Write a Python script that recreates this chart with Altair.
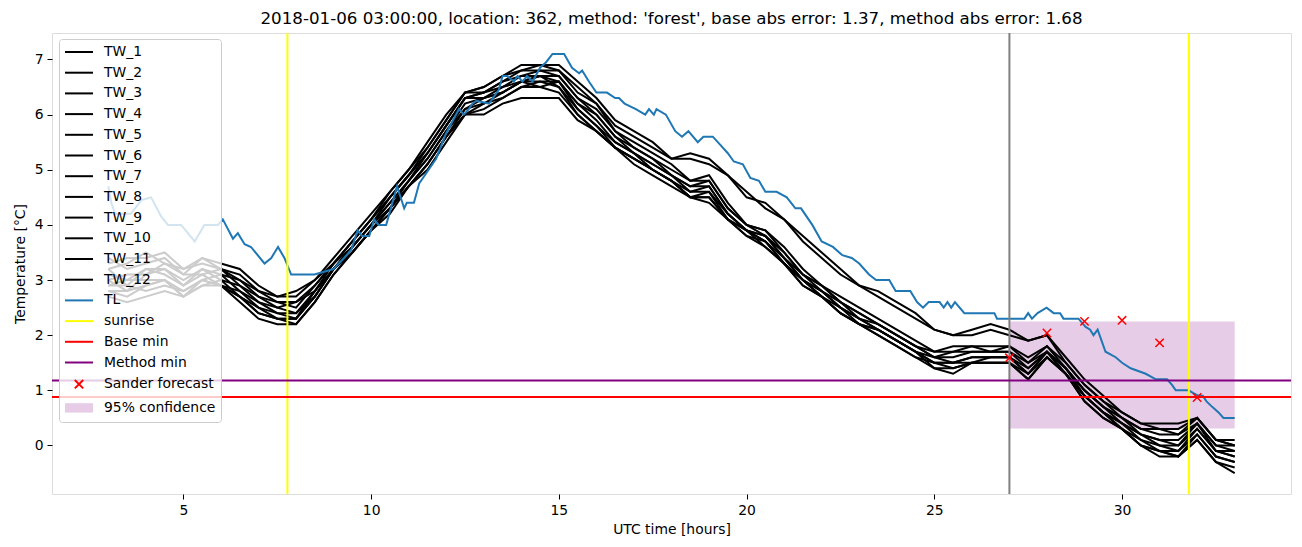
import altair as alt
import pandas as pd

# ---------------- data ----------------
hours = [3.0, 3.5, 4.0, 4.5, 5.0, 5.5, 6.0, 6.5, 7.0, 7.5,
         8.0, 8.5, 9.0, 9.5, 10.0, 10.5, 11.0, 11.5, 12.0, 12.5,
         13.0, 13.5, 14.0, 14.5, 15.0, 15.5, 16.0, 16.5, 17.0, 17.5,
         18.0, 18.5, 19.0, 19.5, 20.0, 20.5, 21.0, 21.5, 22.0, 22.5,
         23.0, 23.5, 24.0, 24.5, 25.0, 25.5, 26.0, 26.5, 27.0, 27.5,
         28.0, 28.5, 29.0, 29.5, 30.0, 30.5, 31.0, 31.5, 32.0, 32.5,
         33.0]

tw_1 = [3.3, 3.4, 3.4, 3.5, 3.2, 3.4, 3.3, 3.2, 2.9, 2.7,
        2.8, 3.0, 3.4, 3.8, 4.2, 4.6, 5.0, 5.5, 6.0, 6.4,
        6.5, 6.7, 6.9, 6.9, 6.9, 6.6, 6.3, 5.9, 5.7, 5.5,
        5.2, 5.3, 5.2, 4.9, 4.5, 4.4, 4.1, 3.8, 3.5, 3.2,
        2.9, 2.8, 2.6, 2.4, 2.1, 2.0, 2.1, 2.2, 2.1, 1.9,
        2.0, 1.6, 1.2, 0.9, 0.6, 0.4, 0.4, 0.4, 0.5, 0.1,
        0.1]
tw_2 = [3.2, 3.3, 3.5, 3.3, 3.2, 3.3, 3.2, 3.1, 2.8, 2.7,
        2.7, 3.0, 3.3, 3.7, 4.1, 4.6, 5.0, 5.4, 5.9, 6.4,
        6.5, 6.7, 6.8, 6.9, 6.8, 6.5, 6.2, 5.8, 5.6, 5.4,
        5.2, 5.2, 5.1, 4.9, 4.6, 4.3, 4.1, 3.7, 3.4, 3.1,
        2.9, 2.7, 2.5, 2.3, 2.1, 2.0, 2.0, 2.1, 2.0, 1.9,
        2.0, 1.5, 1.1, 0.8, 0.6, 0.4, 0.3, 0.3, 0.5, 0.1,
        0.0]
tw_3 = [3.4, 3.2, 3.3, 3.4, 3.1, 3.4, 3.2, 3.0, 2.8, 2.6,
        2.6, 2.9, 3.3, 3.7, 4.1, 4.5, 4.9, 5.4, 5.9, 6.4,
        6.4, 6.6, 6.8, 6.8, 6.8, 6.4, 6.2, 5.7, 5.5, 5.3,
        5.1, 4.8, 4.9, 4.4, 4.0, 3.9, 3.6, 3.2, 2.9, 2.7,
        2.5, 2.3, 2.1, 1.9, 1.7, 1.8, 1.8, 1.8, 1.8, 1.6,
        1.8, 1.5, 1.1, 0.8, 0.5, 0.3, 0.3, 0.2, 0.5, 0.1,
        0.0]
tw_4 = [3.1, 3.0, 3.2, 3.2, 3.0, 3.2, 3.1, 3.0, 2.7, 2.6,
        2.5, 2.9, 3.3, 3.7, 4.1, 4.5, 4.9, 5.3, 5.8, 6.3,
        6.4, 6.6, 6.7, 6.8, 6.7, 6.3, 6.1, 5.7, 5.4, 5.2,
        5.0, 4.8, 4.8, 4.3, 4.0, 3.9, 3.5, 3.1, 2.9, 2.6,
        2.4, 2.2, 2.0, 1.8, 1.7, 1.7, 1.8, 1.7, 1.8, 1.5,
        1.8, 1.4, 1.0, 0.7, 0.5, 0.3, 0.2, 0.2, 0.4, 0.0,
        0.0]
tw_5 = [3.0, 3.1, 3.1, 3.3, 3.1, 3.1, 3.2, 2.9, 2.7, 2.5,
        2.6, 2.8, 3.2, 3.6, 4.0, 4.5, 4.9, 5.3, 5.8, 6.3,
        6.4, 6.5, 6.7, 6.7, 6.7, 6.3, 6.0, 5.6, 5.4, 5.2,
        4.9, 4.7, 4.8, 4.3, 4.0, 3.8, 3.5, 3.1, 2.9, 2.6,
        2.4, 2.2, 2.0, 1.8, 1.6, 1.7, 1.7, 1.7, 1.7, 1.5,
        1.7, 1.4, 1.0, 0.7, 0.5, 0.2, 0.1, 0.1, 0.4, 0.0,
        -0.1]
tw_6 = [3.2, 2.9, 3.2, 3.1, 2.9, 3.2, 3.0, 2.9, 2.6, 2.5,
        2.4, 2.8, 3.3, 3.6, 4.0, 4.4, 4.8, 5.3, 5.8, 6.3,
        6.3, 6.5, 6.6, 6.7, 6.6, 6.2, 6.0, 5.6, 5.3, 5.1,
        4.9, 4.7, 4.7, 4.2, 3.9, 3.8, 3.4, 3.1, 2.8, 2.6,
        2.3, 2.2, 2.0, 1.8, 1.6, 1.6, 1.7, 1.7, 1.7, 1.4,
        1.7, 1.4, 1.0, 0.7, 0.4, 0.2, 0.1, 0.0, 0.4, -0.1,
        -0.1]
tw_7 = [2.9, 3.0, 3.0, 3.0, 2.8, 3.0, 3.1, 2.8, 2.6, 2.4,
        2.4, 2.7, 3.2, 3.6, 4.0, 4.4, 4.8, 5.2, 5.7, 6.2,
        6.3, 6.4, 6.6, 6.6, 6.6, 6.2, 5.9, 5.5, 5.3, 5.1,
        4.9, 4.6, 4.7, 4.2, 3.9, 3.8, 3.4, 3.0, 2.8, 2.5,
        2.3, 2.1, 1.9, 1.7, 1.6, 1.5, 1.6, 1.6, 1.6, 1.4,
        1.7, 1.4, 0.9, 0.6, 0.4, 0.2, 0.0, 0.0, 0.3, -0.1,
        -0.2]
tw_8 = [3.0, 2.8, 3.1, 3.2, 2.9, 3.1, 2.9, 2.8, 2.5, 2.4,
        2.3, 2.8, 3.2, 3.5, 3.9, 4.3, 4.8, 5.2, 5.7, 6.1,
        6.3, 6.4, 6.6, 6.7, 6.5, 6.1, 5.8, 5.5, 5.3, 5.0,
        4.8, 4.6, 4.6, 4.2, 3.9, 3.7, 3.4, 3.0, 2.8, 2.5,
        2.3, 2.1, 1.9, 1.7, 1.5, 1.5, 1.6, 1.6, 1.6, 1.3,
        1.7, 1.3, 0.9, 0.6, 0.4, 0.1, 0.0, -0.1, 0.3, -0.1,
        -0.2]
tw_9 = [2.8, 2.7, 2.9, 3.0, 2.7, 2.9, 3.0, 2.7, 2.5, 2.3,
        2.3, 2.7, 3.2, 3.5, 3.9, 4.3, 4.7, 5.1, 5.6, 6.1,
        6.2, 6.3, 6.5, 6.5, 6.6, 6.1, 5.8, 5.4, 5.2, 5.0,
        4.8, 4.5, 4.6, 4.1, 3.9, 3.7, 3.3, 3.0, 2.7, 2.5,
        2.2, 2.1, 1.9, 1.7, 1.5, 1.5, 1.5, 1.6, 1.6, 1.3,
        1.6, 1.3, 0.9, 0.6, 0.3, 0.1, -0.1, -0.1, 0.2, -0.2,
        -0.3]
tw_10 = [2.9, 2.9, 2.8, 2.9, 2.8, 3.0, 2.9, 2.7, 2.4, 2.3,
         2.2, 2.6, 3.1, 3.5, 3.9, 4.3, 4.7, 5.1, 5.6, 6.0,
         6.1, 6.3, 6.5, 6.6, 6.5, 6.0, 5.7, 5.4, 5.2, 5.0,
         4.8, 4.5, 4.5, 4.1, 3.8, 3.7, 3.3, 2.9, 2.7, 2.4,
         2.2, 2.0, 1.8, 1.6, 1.5, 1.4, 1.5, 1.5, 1.5, 1.3,
         1.7, 1.3, 0.9, 0.6, 0.3, 0.0, -0.1, -0.2, 0.2, -0.2,
         -0.3]
tw_11 = [2.7, 2.6, 2.7, 2.8, 2.7, 2.9, 2.9, 2.6, 2.3, 2.2,
         2.2, 2.6, 3.1, 3.5, 3.9, 4.2, 4.7, 5.1, 5.6, 6.0,
         6.2, 6.4, 6.6, 6.5, 6.4, 6.0, 5.7, 5.4, 5.1, 4.9,
         4.7, 4.5, 4.5, 4.1, 3.9, 3.6, 3.3, 2.9, 2.7, 2.4,
         2.2, 2.0, 1.8, 1.6, 1.4, 1.3, 1.5, 1.5, 1.5, 1.2,
         1.6, 1.3, 0.8, 0.5, 0.3, 0.0, -0.2, -0.2, 0.1, -0.3,
         -0.4]
tw_12 = [2.8, 2.8, 2.9, 3.0, 2.7, 3.0, 2.9, 2.7, 2.4, 2.3,
         2.3, 2.7, 3.2, 3.6, 4.0, 4.3, 4.7, 5.0, 5.5, 6.0,
         6.0, 6.2, 6.3, 6.3, 6.3, 5.9, 5.7, 5.4, 5.2, 5.0,
         4.8, 4.5, 4.4, 4.1, 3.8, 3.6, 3.3, 3.0, 2.7, 2.4,
         2.2, 2.1, 1.9, 1.7, 1.4, 1.4, 1.5, 1.5, 1.5, 1.2,
         1.6, 1.3, 0.8, 0.5, 0.3, 0.0, -0.1, -0.2, 0.1, -0.3,
         -0.5]

tl_hours = [3.0, 3.08, 3.18, 3.6, 3.88, 4.14, 4.41, 4.59, 4.94, 5.3,
            5.56, 5.92, 6.05, 6.32, 6.45, 6.63, 6.8, 7.16, 7.34, 7.52,
            7.69, 7.87, 8.49, 9.0, 9.28, 9.47, 9.64, 9.76, 9.95, 10.08,
            10.2, 10.4, 10.69, 10.88, 10.95, 11.14, 11.28, 11.73, 11.99, 12.34,
            12.47, 12.6, 12.7, 12.8, 13.14, 13.4, 13.5, 13.62, 13.8, 13.9,
            14.03, 14.15, 14.3, 14.5, 14.66, 14.83, 15.14, 15.35, 15.54, 15.62,
            15.8, 16.0, 16.28, 16.5, 16.6, 16.75, 17.05, 17.3, 17.4, 17.53,
            17.6, 17.85, 18.1, 18.28, 18.45, 18.7, 18.85, 19.1, 19.3, 19.5,
            19.66, 19.9, 20.1, 20.33, 20.5, 20.8, 21.07, 21.3, 21.45, 21.75,
            22.0, 22.3, 22.55, 22.8, 23.0, 23.26, 23.45, 23.8, 23.97, 24.36,
            24.54, 24.7, 24.85, 25.14, 25.25, 25.35, 25.45, 25.55, 25.8, 26.6,
            26.67, 27.4, 27.5, 27.6, 27.75, 27.99, 28.18, 28.35, 28.44, 28.84,
            29.03, 29.15, 29.24, 29.35, 29.56, 29.83, 30.0, 30.23, 30.63, 30.9,
            31.2, 31.33, 31.43, 31.77, 31.9, 32.04, 32.15, 32.25, 32.4, 32.57,
            32.7, 33.0]
tl_temp = [4.7, 4.4, 4.2, 4.2, 4.45, 4.5, 4.15, 4.0, 4.0, 3.7,
           4.0, 4.0, 4.1, 3.75, 3.85, 3.65, 3.6, 3.3, 3.4, 3.6,
           3.4, 3.1, 3.1, 3.2, 3.4, 3.55, 3.9, 3.8, 3.8, 4.1,
           4.0, 4.0, 4.7, 4.3, 4.4, 4.4, 4.75, 5.2, 5.65, 6.1,
           6.0, 6.1, 6.2, 6.25, 6.2, 6.45, 6.7, 6.7, 6.6, 6.7,
           6.6, 6.7, 6.6, 6.85, 6.95, 7.1, 7.1, 6.85, 6.75, 6.8,
           6.6, 6.4, 6.4, 6.3, 6.3, 6.2, 6.1, 6.0, 6.1, 6.0,
           6.1, 6.0, 5.7, 5.6, 5.7, 5.5, 5.6, 5.6, 5.45, 5.3,
           5.15, 5.1, 4.85, 4.8, 4.6, 4.6, 4.5, 4.3, 4.3, 4.0,
           3.7, 3.6, 3.45, 3.4, 3.3, 3.1, 3.0, 3.0, 2.8, 2.8,
           2.6, 2.5, 2.6, 2.6, 2.5, 2.6, 2.5, 2.6, 2.4, 2.4,
           2.3, 2.3, 2.4, 2.3, 2.4, 2.5, 2.4, 2.4, 2.3, 2.3,
           2.15, 2.1, 2.0, 2.1, 1.7, 1.6, 1.5, 1.4, 1.3, 1.2,
           1.2, 1.1, 1.0, 1.0, 0.95, 0.9, 0.9, 0.8, 0.7, 0.6,
           0.5, 0.5]

sunrise_hours = [7.77, 31.78]
forecast_hours = [27.0]
base_min = [0.88]
method_min = [1.18]
sander_hours = [27.0, 28.0, 29.0, 30.0, 31.0, 32.0]
sander_temp = [1.59, 2.04, 2.25, 2.27, 1.86, 0.87]
conf_hours = [27.0, 33.0]
conf_temp = [0.31, 2.25]

tw_names = ["TW_1", "TW_2", "TW_3", "TW_4", "TW_5", "TW_6",
            "TW_7", "TW_8", "TW_9", "TW_10", "TW_11", "TW_12"]
tw_series = [tw_1, tw_2, tw_3, tw_4, tw_5, tw_6,
             tw_7, tw_8, tw_9, tw_10, tw_11, tw_12]
legend_labels = tw_names + ["TL", "sunrise", "Base min", "Method min",
                            "Sander forecast", "95% confidence"]

title_text = ("2018-01-06 03:00:00, location: 362, method: 'forest', "
              "base abs error: 1.37, method abs error: 1.68")

# ---------------- tables ----------------
tw_df = pd.DataFrame(
    [{"hour": h, "temp": v, "series": n}
     for n, vals in zip(tw_names, tw_series) for h, v in zip(hours, vals)]
)
tl_df = pd.DataFrame({"hour": tl_hours, "temp": tl_temp})
sun_df = pd.DataFrame({"hour": sunrise_hours})
fc_df = pd.DataFrame({"hour": forecast_hours})
base_df = pd.DataFrame({"temp": base_min})
meth_df = pd.DataFrame({"temp": method_min})
sander_df = pd.DataFrame({"hour": sander_hours, "temp": sander_temp})
conf_df = pd.DataFrame({"hour": [conf_hours[0]], "hour_end": [conf_hours[1]],
                        "temp": [conf_temp[0]], "temp_end": [conf_temp[1]]})
leg_df = pd.DataFrame({"label": legend_labels})

FONT = "DejaVu Sans"
FS = 13.9

x_scale = alt.Scale(domain=[1.5, 34.5], nice=False, zero=False)
y_scale = alt.Scale(domain=[-0.88, 7.48], nice=False, zero=False)
x_axis = alt.Axis(values=[5, 10, 15, 20, 25, 30], title="UTC time [hours]",
                  grid=False, domain=False, tickSize=5, tickColor="black",
                  labelFontSize=FS, labelColor="black", labelPadding=4,
                  labelFont=FONT, titleFont=FONT, titleFontSize=FS,
                  titleFontWeight="normal", titleColor="black", titlePadding=6)
y_axis = alt.Axis(values=[0, 1, 2, 3, 4, 5, 6, 7], title="Temperature [°C]",
                  grid=False, domain=False, tickSize=5, tickColor="black",
                  labelFontSize=FS, labelColor="black", labelPadding=4,
                  labelFont=FONT, titleFont=FONT, titleFontSize=FS,
                  titleFontWeight="normal", titleColor="black", titlePadding=7)

X = alt.X("hour:Q", scale=x_scale, axis=x_axis)
Y = alt.Y("temp:Q", scale=y_scale, axis=y_axis)

band = alt.Chart(conf_df).mark_rect(color="purple", opacity=0.2).encode(
    x=X, x2="hour_end:Q", y=Y, y2="temp_end:Q")

tw_lines = alt.Chart(tw_df).mark_line(color="black", strokeWidth=2).encode(
    x=X, y=Y, detail="series:N")

tl_line = alt.Chart(tl_df).mark_line(color="#1f77b4", strokeWidth=2).encode(x=X, y=Y)

sun_rule = alt.Chart(sun_df).mark_rule(color="yellow", strokeWidth=2).encode(x=X)
fc_rule = alt.Chart(fc_df).mark_rule(color="grey", strokeWidth=2).encode(x=X)
base_rule = alt.Chart(base_df).mark_rule(color="red", strokeWidth=2).encode(y=Y)
meth_rule = alt.Chart(meth_df).mark_rule(color="purple", strokeWidth=2).encode(y=Y)

CROSS_PLOT = "M-1,-1L1,1M-1,1L1,-1"
sander_pts = alt.Chart(sander_df).mark_point(
    shape=CROSS_PLOT, color="red", size=70, strokeWidth=1.5, filled=False,
    opacity=1).encode(x=X, y=Y)

LINE = "M-1,0L3,0"
CROSS = "M0.4,-0.6L1.6,0.6M0.4,0.6L1.6,-0.6"
PATCH = "M-1,-0.67L3,-0.67L3,0.67L-1,0.67Z"
shape_range = [LINE] * 16 + [CROSS, PATCH]
stroke_range = ["black"] * 12 + ["#1f77b4", "yellow", "red", "purple", "red", "transparent"]
fill_range = ["transparent"] * 17 + ["#e6cce6"]

leg = alt.Legend(title=None, orient="none", legendX=7, legendY=6, padding=5,
                 rowPadding=5.7, symbolSize=196, symbolStrokeWidth=2,
                 labelOffset=24, labelFontSize=FS, labelFont=FONT,
                 labelColor="black", fillColor="rgba(255,255,255,0.8)",
                 strokeColor="#cccccc", cornerRadius=3, symbolOpacity=1,
                 labelLimit=400)

legend_layer = alt.Chart(leg_df).mark_point(opacity=0).encode(
    shape=alt.Shape("label:N", scale=alt.Scale(domain=legend_labels, range=shape_range), legend=leg),
    stroke=alt.Stroke("label:N", scale=alt.Scale(domain=legend_labels, range=stroke_range), legend=leg),
    fill=alt.Fill("label:N", scale=alt.Scale(domain=legend_labels, range=fill_range), legend=leg),
)

chart = alt.layer(
    band, tw_lines, tl_line, sun_rule, fc_rule, base_rule, meth_rule,
    sander_pts, legend_layer
).properties(
    width=1239, height=461,
    title=alt.TitleParams(title_text, fontSize=16.7, font=FONT,
                          fontWeight="normal", anchor="middle", offset=4,
                          color="black"),
    padding={"left": 44, "top": 25, "right": 3, "bottom": 45},
    autosize=alt.AutoSizeParams(type="none"),
).configure_view(stroke="black", strokeWidth=1.1).configure(font=FONT)

chart.save("out.html", embed_options={"renderer": "svg", "actions": False})
